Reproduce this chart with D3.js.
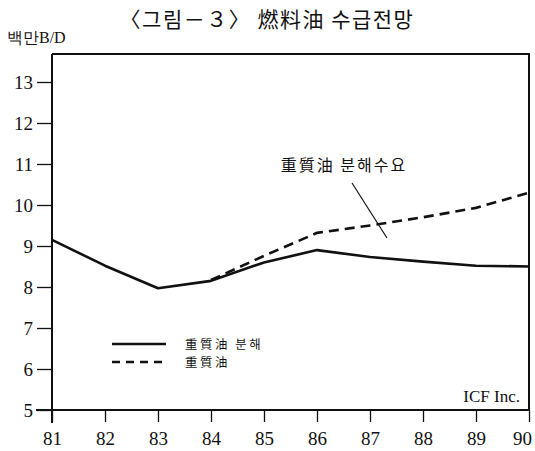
<!DOCTYPE html>
<html><head><meta charset="utf-8">
<script src="https://cdn.jsdelivr.net/npm/d3@7"></script>
<style>
body{margin:0;background:#fff;}
svg{display:block;}
</style></head>
<body>
<svg id="chart" width="535" height="451"></svg>
<script>
const years = ["81","82","83","84","85","86","87","88","89","90"];
const crackingValues = [9.15, 8.52, 7.97, 8.15, 8.6, 8.9, 8.73, 8.62, 8.52, 8.5];
const heavyOilYears = ["84","85","86","87","88","89","90"];
const heavyOilValues = [8.17, 8.76, 9.32, 9.5, 9.7, 9.93, 10.3];
const yTicks = [5,6,7,8,9,10,11,12,13];
const titleText = "〈그림－３〉 燃料油 수급전망";
const unitText = "백만B/D";
const annotationText = "重質油 분해수요";
const legendLabels = ["重質油 분해", "重質油"];
const sourceText = "ICF Inc.";

const svg = d3.select("#chart");
const L = 52, R = 529, T = 54, B = 410;
const x = d3.scalePoint().domain(years).range([L, R]);
const y = d3.scaleLinear().domain([5, 5 + (B - T) / 41]).range([B, T]);

const serif = "'Liberation Serif','DejaVu Serif',serif";
const cjk = "'Noto Sans CJK KR','Noto Sans CJK SC',sans-serif";

// title
svg.append("text").attr("x", 267).attr("y", 27).attr("text-anchor", "middle")
  .attr("font-family", cjk).attr("font-size", 21).attr("letter-spacing", 1.5)
  .attr("fill", "#111").text(titleText);
svg.append("text").attr("x", 7).attr("y", 43)
  .attr("font-family", serif).attr("font-size", 16).attr("fill", "#111").text(unitText);

// frame
svg.append("path").attr("d", `M${L},${T}H${R}V${B}`).attr("fill", "none")
  .attr("stroke", "#111").attr("stroke-width", 2);

// y axis
const yAxis = svg.append("g").attr("transform", `translate(${L},0)`)
  .call(d3.axisLeft(y).tickValues(yTicks).tickSize(15).tickPadding(4).tickFormat(d3.format("d")));
yAxis.attr("font-family", serif).attr("font-size", 19);
yAxis.select(".domain").attr("d", `M0,${T}V${B + 13}`).attr("stroke-width", 2).attr("stroke", "#111");
yAxis.selectAll(".tick line").attr("stroke", "#111").attr("stroke-width", 1.3);
yAxis.selectAll(".tick text").attr("fill", "#111")
  .style("font-family", serif).style("font-size", "19px");

// x axis
const xAxis = svg.append("g").attr("transform", `translate(0,${B})`)
  .call(d3.axisBottom(x).tickSize(12).tickPadding(10));
xAxis.attr("font-family", serif).attr("font-size", 19);
xAxis.select(".domain").attr("d", `M${L - 16},0H${R}`).attr("stroke-width", 2).attr("stroke", "#111");
xAxis.selectAll(".tick line").attr("stroke", "#111").attr("stroke-width", 1.3);
xAxis.selectAll(".tick text").attr("fill", "#111")
  .style("font-family", serif).style("font-size", "19px")
  .attr("dx", d => d === "90" ? -7 : 0);

// lines
const line = d3.line().x(d => x(d[0])).y(d => y(d[1]));
svg.append("path").datum(years.map((yr, i) => [yr, crackingValues[i]]))
  .attr("d", line).attr("fill", "none").attr("stroke", "#111").attr("stroke-width", 2.6)
  .attr("stroke-linejoin", "round");
svg.append("path").datum(heavyOilYears.map((yr, i) => [yr, heavyOilValues[i]]))
  .attr("d", line).attr("fill", "none").attr("stroke", "#111").attr("stroke-width", 2.6)
  .attr("stroke-dasharray", "10,6");

// annotation
svg.append("text").attr("x", 344).attr("y", 171).attr("text-anchor", "middle")
  .attr("font-family", cjk).attr("font-size", 16).attr("letter-spacing", 2)
  .attr("fill", "#111").text(annotationText);
svg.append("line").attr("x1", 352).attr("y1", 183).attr("x2", 387).attr("y2", 238)
  .attr("stroke", "#111").attr("stroke-width", 1.2);

// legend
const legend = svg.append("g");
[["none", 344], ["8,6", 362]].forEach((s, i) => {
  legend.append("line").attr("x1", 112).attr("x2", 166).attr("y1", s[1]).attr("y2", s[1])
    .attr("stroke", "#111").attr("stroke-width", 2.4)
    .attr("stroke-dasharray", s[0] === "none" ? null : s[0]);
  legend.append("text").attr("x", 185).attr("y", s[1] + 5)
    .attr("font-family", cjk).attr("font-size", 12.4).attr("letter-spacing", 2.6)
    .attr("fill", "#111").text(legendLabels[i]);
});

// source
svg.append("text").attr("x", 520).attr("y", 402).attr("text-anchor", "end")
  .attr("font-family", serif).attr("font-size", 17).attr("fill", "#111").text(sourceText);
</script>
</body></html>
